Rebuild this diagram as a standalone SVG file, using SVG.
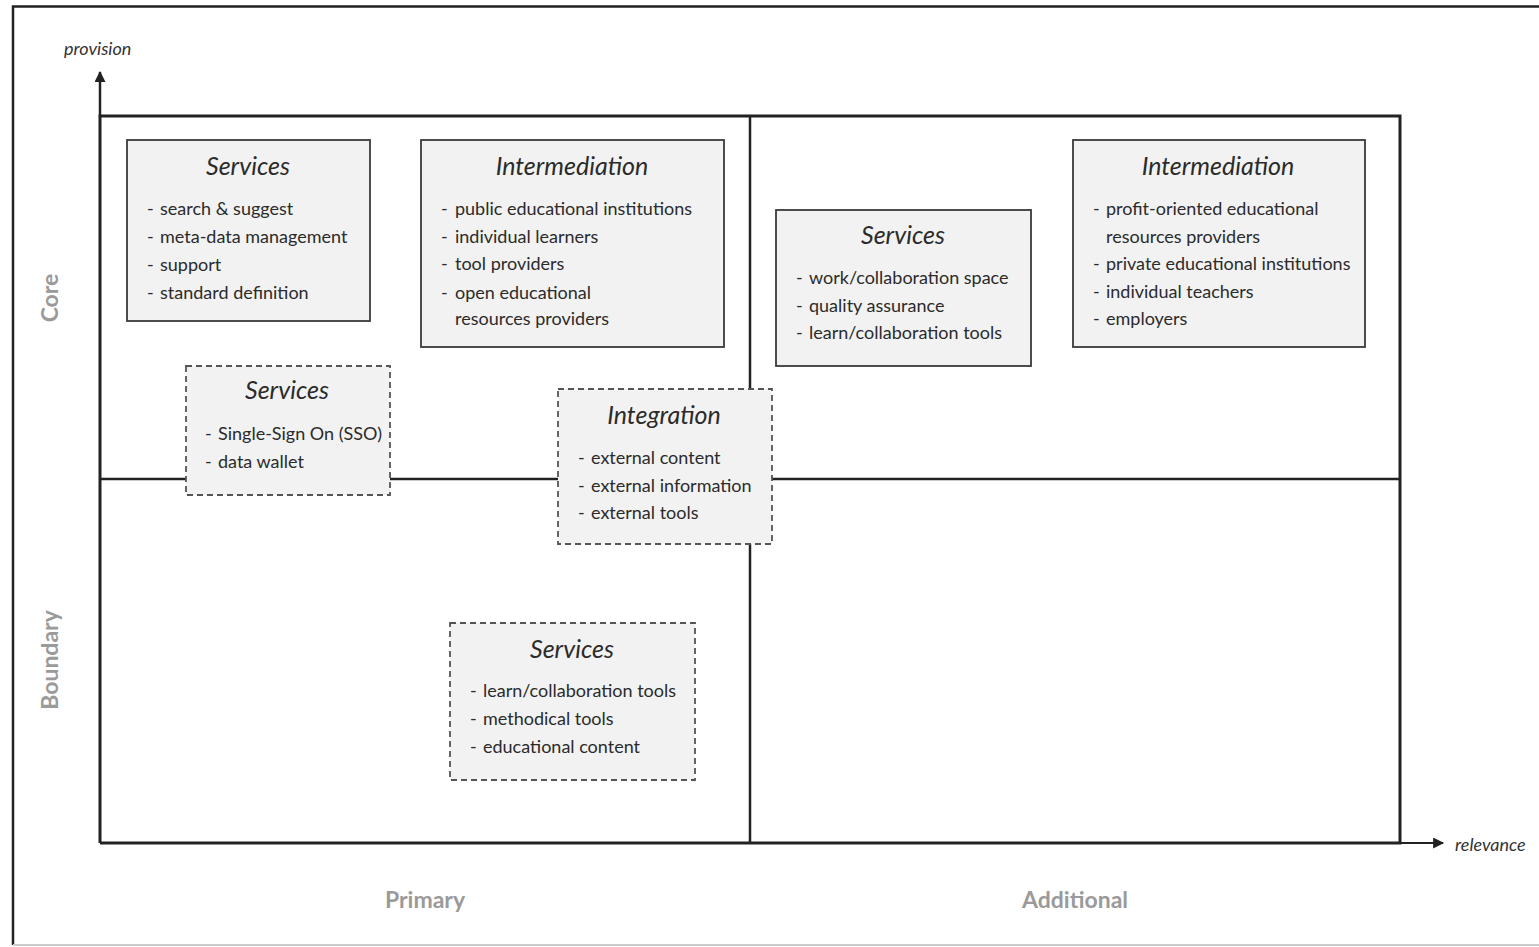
<svg xmlns="http://www.w3.org/2000/svg" width="1539" height="947" viewBox="0 0 1539 947">
<style>
.box{fill:#f2f2f2;stroke:#3a3a3a;stroke-width:1.8}
.dbox{fill:#f2f2f2;stroke:#555;stroke-width:1.8;stroke-dasharray:6 4}
.title{font-family:Lato,"Liberation Sans",sans-serif;font-style:italic;font-size:25px;fill:#2b2b2b;text-anchor:middle}
.item{font-family:Lato,"Liberation Sans",sans-serif;font-size:18px;fill:#2b2b2b}
.ax{font-family:Lato,"Liberation Sans",sans-serif;font-style:italic;font-size:18px;fill:#333}
.lab{font-family:Lato,"Liberation Sans",sans-serif;font-weight:bold;font-size:23px;fill:#9a9a9a;text-anchor:middle}
.ln{stroke:#222;fill:none}
</style>
<defs>
<marker id="arr" viewBox="0 0 10 10" refX="9" refY="5" markerWidth="12" markerHeight="11" markerUnits="userSpaceOnUse" orient="auto">
<path d="M0,0 L10,5 L0,10 z" fill="#222"/>
</marker>
</defs>
<g id="frame">
<path d="M1539,6.5 H13 V945" class="ln" stroke-width="2.5" stroke="#333"/>
<path d="M13,945 H1539" stroke="#ccc" stroke-width="2" fill="none"/>
</g>
<g id="connectors">
<path class="ln" stroke-width="3" d="M100,843 V116 H1400 V843 H100"/>
<path class="ln" stroke-width="2.5" d="M100,479 H1400"/>
<path class="ln" stroke-width="2.5" d="M750,116 V843"/>
<path class="ln" stroke-width="2.5" d="M100,116 V72" marker-end="url(#arr)"/>
<path class="ln" stroke-width="2" d="M1400,843 H1443" marker-end="url(#arr)"/>
</g>
<g id="axis-labels">
<text class="ax" x="64" y="55">provision</text>
<text class="ax" x="1455" y="851">relevance</text>
<text class="lab" transform="translate(58,298) rotate(-90)">Core</text>
<text class="lab" transform="translate(58,660) rotate(-90)">Boundary</text>
<text class="lab" x="425" y="908">Primary</text>
<text class="lab" x="1075" y="908">Additional</text>
</g>
<g id="services-core">
<rect class="box" x="127" y="140" width="243" height="181"/>
<text class="title" x="248" y="175">Services</text>
<text class="item" x="147" y="215">-<tspan x="160">search &amp; suggest</tspan></text>
<text class="item" x="147" y="243">-<tspan x="160">meta-data management</tspan></text>
<text class="item" x="147" y="271">-<tspan x="160">support</tspan></text>
<text class="item" x="147" y="299">-<tspan x="160">standard definition</tspan></text>
</g>
<g id="intermediation-primary">
<rect class="box" x="421" y="140" width="303" height="207"/>
<text class="title" x="572" y="175">Intermediation</text>
<text class="item" x="441" y="215">-<tspan x="455">public educational institutions</tspan></text>
<text class="item" x="441" y="243">-<tspan x="455">individual learners</tspan></text>
<text class="item" x="441" y="270">-<tspan x="455">tool providers</tspan></text>
<text class="item" x="441" y="299">-<tspan x="455">open educational</tspan></text>
<text class="item" x="455" y="325">resources providers</text>
</g>
<g id="services-additional">
<rect class="box" x="776" y="210" width="255" height="156"/>
<text class="title" x="903" y="244">Services</text>
<text class="item" x="796" y="284">-<tspan x="809">work/collaboration space</tspan></text>
<text class="item" x="796" y="312">-<tspan x="809">quality assurance</tspan></text>
<text class="item" x="796" y="339">-<tspan x="809">learn/collaboration tools</tspan></text>
</g>
<g id="intermediation-additional">
<rect class="box" x="1073" y="140" width="292" height="207"/>
<text class="title" x="1218" y="175">Intermediation</text>
<text class="item" x="1093" y="215">-<tspan x="1106">profit-oriented educational</tspan></text>
<text class="item" x="1106" y="243">resources providers</text>
<text class="item" x="1093" y="270">-<tspan x="1106">private educational institutions</tspan></text>
<text class="item" x="1093" y="298">-<tspan x="1106">individual teachers</tspan></text>
<text class="item" x="1093" y="325">-<tspan x="1106">employers</tspan></text>
</g>
<g id="services-sso">
<rect class="dbox" x="186" y="366" width="204" height="129"/>
<text class="title" x="287" y="399">Services</text>
<text class="item" x="205" y="440">-<tspan x="218">Single-Sign On (SSO)</tspan></text>
<text class="item" x="205" y="468">-<tspan x="218">data wallet</tspan></text>
</g>
<g id="integration">
<rect class="dbox" x="558" y="389" width="214" height="155"/>
<text class="title" x="664" y="424">Integration</text>
<text class="item" x="578" y="464">-<tspan x="591">external content</tspan></text>
<text class="item" x="578" y="492">-<tspan x="591">external information</tspan></text>
<text class="item" x="578" y="519">-<tspan x="591">external tools</tspan></text>
</g>
<g id="services-boundary">
<rect class="dbox" x="450" y="623" width="245" height="157"/>
<text class="title" x="572" y="658">Services</text>
<text class="item" x="470" y="697">-<tspan x="483">learn/collaboration tools</tspan></text>
<text class="item" x="470" y="725">-<tspan x="483">methodical tools</tspan></text>
<text class="item" x="470" y="753">-<tspan x="483">educational content</tspan></text>
</g>
</svg>
